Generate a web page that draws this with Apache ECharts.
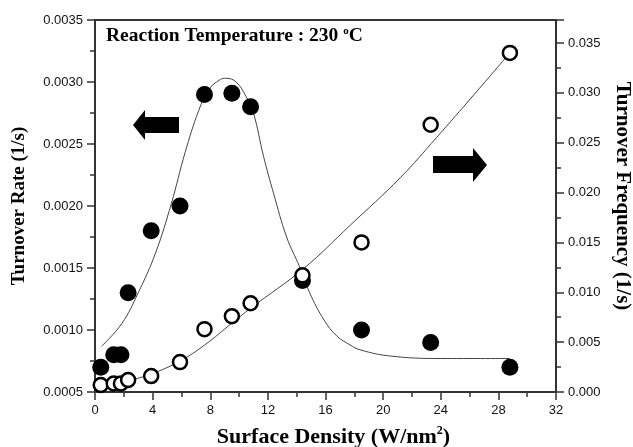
<!DOCTYPE html>
<html>
<head>
<meta charset="utf-8">
<script src="https://cdn.jsdelivr.net/npm/echarts/dist/echarts.min.js"></script>
<style>html,body{margin:0;padding:0;background:#fff}#c{width:633px;height:447px}</style>
</head>
<body>
<div id="c"></div>
<script>
// ---- data ----
const surfaceDensity = [0.4, 1.3, 1.8, 2.3, 3.9, 5.9, 7.6, 9.5, 10.8, 14.4, 18.5, 23.3, 28.8];
const turnoverRate = [0.0007, 0.0008, 0.0008, 0.0013, 0.0018, 0.0020, 0.0029, 0.00291, 0.0028, 0.0014, 0.0010, 0.0009, 0.0007];
const turnoverFreq = [0.0007, 0.00085, 0.00085, 0.0012, 0.0016, 0.0030, 0.0063, 0.0076, 0.0089, 0.0117, 0.0150, 0.0268, 0.0340];

const rateFitX = [0.46, 1.85, 3.0, 4.2, 5.3, 6.25, 7.2, 7.9, 8.7, 9.1, 9.8, 10.5, 11.0, 11.7, 12.4, 13.3, 14.2, 14.9, 15.9, 16.8, 17.7, 18.4, 20.5, 24.0, 28.8];
const rateFitY = [0.00087, 0.00105, 0.00130, 0.00162, 0.00202, 0.00243, 0.00277, 0.00294, 0.00302, 0.00303, 0.00300, 0.00288, 0.00275, 0.00240, 0.00210, 0.00175, 0.00151, 0.00130, 0.00108, 0.00095, 0.00088, 0.00084, 0.00079, 0.00077, 0.00077];

const freqFitX = [1.0, 2.3, 3.9, 5.9, 7.6, 9.5, 10.8, 14.5, 17.7, 21.2, 23.7, 26.3, 28.8];
const freqFitY = [0.0005, 0.0011, 0.0018, 0.0031, 0.0047, 0.0069, 0.0084, 0.0124, 0.0167, 0.0215, 0.0255, 0.0298, 0.0340];

const xTicks = [0, 4, 8, 12, 16, 20, 24, 28, 32];
const titleText = 'Reaction Temperature : 230 ';

const zip = (a, b) => a.map((v, i) => [v, b[i]]);

const serif = '"Liberation Serif", "Times New Roman", serif';
const sans = '"Liberation Sans", Arial, sans-serif';
const axisCol = '#333';

const chart = echarts.init(document.getElementById('c'), null, {renderer: 'canvas'});

const commonAxis = {
  axisLine: {show: true, lineStyle: {color: axisCol, width: 2}},
  axisTick: {show: true, inside: false, length: 8, lineStyle: {color: axisCol, width: 1.5}},
  minorTick: {show: true, splitNumber: 2, length: 5, lineStyle: {color: axisCol, width: 1.5}},
  splitLine: {show: false},
  axisLabel: {color: '#111', fontFamily: sans, fontSize: 13, margin: 12}
};

chart.setOption({
  animation: false,
  backgroundColor: '#fff',
  grid: {left: 95, right: 77, top: 20, bottom: 55, containLabel: false, outerBoundsMode: 'none',
         show: true, borderColor: axisCol, borderWidth: 2, backgroundColor: 'transparent'},
  xAxis: Object.assign({}, commonAxis, {
    type: 'value', min: 0, max: 32, interval: 4,
    name: '{a|Surface Density (W/nm}{s|2}{a|)}',
    nameLocation: 'middle', nameGap: 33,
    nameTextStyle: {
      padding: [0, 0, 0, 16],
      rich: {
        a: {fontFamily: serif, fontWeight: 'bold', fontSize: 22, color: '#000', lineHeight: 24},
        s: {fontFamily: serif, fontWeight: 'bold', fontSize: 12, color: '#000', verticalAlign: 'top', lineHeight: 24, padding: [0, 0, 14, 0]}
      }
    },
    axisLabel: Object.assign({}, commonAxis.axisLabel, {margin: 12})
  }),
  yAxis: [
    Object.assign({}, commonAxis, {
      type: 'value', min: 0.0005, max: 0.0035, interval: 0.0005, position: 'left',
      name: 'Turnover Rate (1/s)', nameLocation: 'middle', nameGap: 66,
      nameTextStyle: {fontFamily: serif, fontWeight: 'bold', fontSize: 19, color: '#000'},
      axisLabel: Object.assign({}, commonAxis.axisLabel, {formatter: v => v.toFixed(4)})
    }),
    Object.assign({}, commonAxis, {
      type: 'value', min: 0, max: 0.0373, interval: 0.005, position: 'right',
      name: 'Turnover Frequency (1/s)', nameLocation: 'middle', nameGap: 56, nameRotate: -90,
      nameTextStyle: {fontFamily: serif, fontWeight: 'bold', fontSize: 21, color: '#000', padding: [0, 20, 0, 0]},
      axisLabel: Object.assign({}, commonAxis.axisLabel, {showMaxLabel: false, formatter: v => v.toFixed(3)})
    })
  ],
  series: [
    {type: 'line', yAxisIndex: 0, data: zip(rateFitX, rateFitY), smooth: 0.4, showSymbol: false, symbol: 'none',
     lineStyle: {color: '#444', width: 1}, z: 1, silent: true},
    {type: 'line', yAxisIndex: 1, data: zip(freqFitX, freqFitY), smooth: 0.4, showSymbol: false, symbol: 'none',
     lineStyle: {color: '#444', width: 1}, z: 1, silent: true},
    {type: 'scatter', yAxisIndex: 0, data: zip(surfaceDensity, turnoverRate), symbol: 'circle', symbolSize: 17,
     itemStyle: {color: '#000', opacity: 1}, z: 3},
    {type: 'scatter', yAxisIndex: 1, data: zip(surfaceDensity, turnoverFreq), symbol: 'circle', symbolSize: 14,
     itemStyle: {color: '#fff', borderColor: '#000', borderWidth: 2.5, opacity: 1}, z: 4}
  ],
  graphic: [
    {type: 'text', left: 106, top: 26, z: 10,
     style: {text: '{a|' + titleText + '}{s|o}{a|C}',
       rich: {
         a: {fontFamily: serif, fontWeight: 'bold', fontSize: 19.5, fill: '#000', lineHeight: 20},
         s: {fontFamily: serif, fontWeight: 'bold', fontSize: 11, fill: '#000', verticalAlign: 'top', lineHeight: 20, padding: [0, 0, 11, 0]}
       }}},
    {type: 'polygon', z: 10, shape: {points: [[133, 125], [145, 110], [145, 117], [179, 117], [179, 133], [145, 133], [145, 140]]}, style: {fill: '#000'}},
    {type: 'polygon', z: 10, shape: {points: [[487, 165], [473, 148], [473, 156], [433, 156], [433, 173], [473, 173], [473, 182]]}, style: {fill: '#000'}}
  ]
});
</script>
</body>
</html>
